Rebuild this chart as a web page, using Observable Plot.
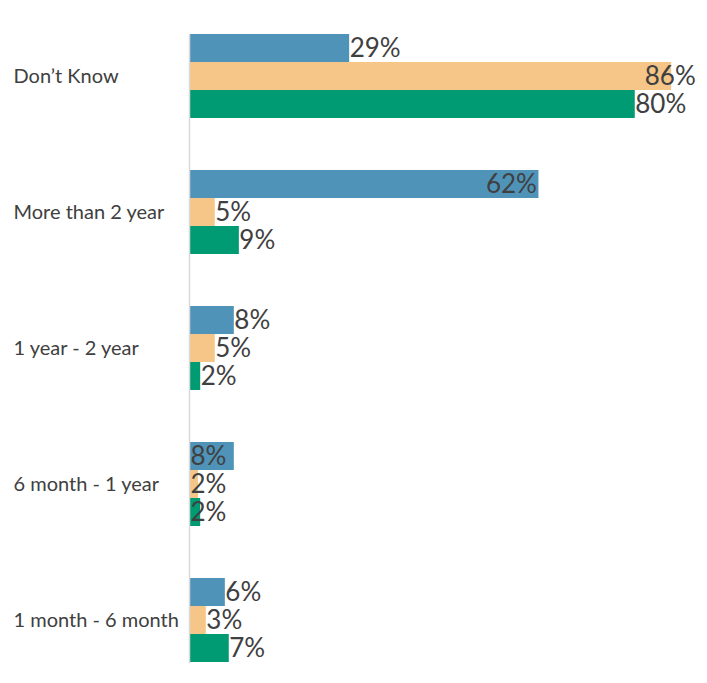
<!DOCTYPE html>
<html>
<head>
<meta charset="utf-8">
<script src="https://cdn.jsdelivr.net/npm/d3@7"></script>
<script src="https://cdn.jsdelivr.net/npm/@observablehq/plot@0.6"></script>
<style>
  html, body { margin: 0; padding: 0; background: #fff; overflow: hidden; }
  #chart svg { display: block; overflow: visible; }
</style>
</head>
<body>
<div id="chart"></div>
<script>
// ---- data ----
const categories = ["Don’t Know", "More than 2 year", "1 year - 2 year", "6 month - 1 year", "1 month - 6 month"];
const series = ["Group 1", "Group 2", "Group 3"];
const group1 = [28.6, 62.4, 8.0, 8.0, 6.4];
const group2 = [86.1, 4.6, 4.6, 1.6, 3.0];
const group3 = [79.6, 8.9, 2.0, 2.0, 7.1];
const colors = ["#4f93b8", "#f5c687", "#009a73"];

// ---- table ----
const seriesValues = [group1, group2, group3];
const rows = categories.flatMap((c, i) =>
  series.map((s, j) => ({ category: c, series: s, value: seriesValues[j][i] }))
);
const fmt = d => Math.round(d.value) + "%";

// label placement (mimics the original chart's label positions)
const xMaxLabel = 90.4;   // right edge of the label area, in data units
const labelWidth = 9.6;   // approximate label width, in data units
function place(d) {
  if (d.category === categories[1] && d.series === series[0]) return "insideEnd";
  if (d.category === categories[3]) return "insideBase";
  if (d.value + labelWidth > xMaxLabel) return "clamped";
  return "outside";
}

const textStyle = { fill: "#404040", fontSize: 26, fontFamily: "Lato, 'DejaVu Sans', sans-serif" };

const chart = Plot.plot({
  width: 707,
  height: 688,
  marginTop: 8,
  marginBottom: 0,
  marginLeft: 189,
  marginRight: 0,
  x: { domain: [0, 92.5], axis: null },
  fy: { domain: categories, paddingInner: 0.382, paddingOuter: 0.191, axis: null },
  y: { domain: series, padding: 0, axis: null },
  color: { domain: series, range: colors },
  marks: [
    Plot.barX(rows, { fy: "category", y: "series", x: "value", fill: "series" }),
    Plot.frame({ anchor: "left", stroke: "#d9d9d9", strokeWidth: 1.5, facet: "super" }),
    Plot.text(rows.filter(d => place(d) === "outside"), {
      fy: "category", y: "series", x: "value", text: fmt, textAnchor: "start", dx: 0, ...textStyle
    }),
    Plot.text(rows.filter(d => place(d) === "clamped"), {
      fy: "category", y: "series", x: () => xMaxLabel, text: fmt, textAnchor: "end", ...textStyle
    }),
    Plot.text(rows.filter(d => place(d) === "insideEnd"), {
      fy: "category", y: "series", x: "value", text: fmt, textAnchor: "end", dx: -2, ...textStyle
    }),
    Plot.text(rows.filter(d => place(d) === "insideBase"), {
      fy: "category", y: "series", x: () => 0, text: fmt, textAnchor: "start", dx: 1, ...textStyle
    }),
    Plot.text(categories, {
      fy: d => d, frameAnchor: "left", dx: -176, textAnchor: "start", text: d => d,
      fill: "#404040", fontSize: 20, fontFamily: "Lato, 'DejaVu Sans', sans-serif"
    })
  ]
});
document.getElementById("chart").appendChild(chart);
</script>
</body>
</html>
